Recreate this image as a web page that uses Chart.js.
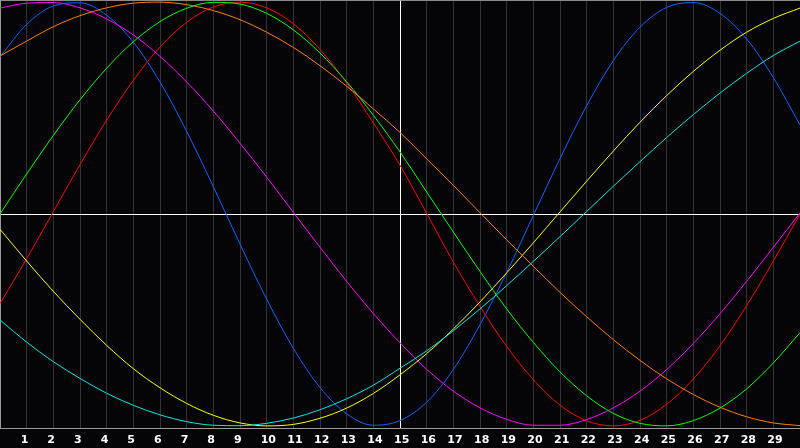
<!DOCTYPE html>
<html>
<head>
<meta charset="utf-8">
<script src="https://cdn.jsdelivr.net/npm/chart.js@4"></script>
<style>
  html, body { margin: 0; padding: 0; background: #050508; }
  canvas { display: block; }
</style>
</head>
<body>
<canvas id="waves" width="800" height="448"></canvas>
<script>
// x-Positionen 0..30, beschriftet werden nur 1..29
const xValues = [0,1,2,3,4,5,6,7,8,9,10,11,12,13,14,15,16,17,18,19,20,21,22,23,24,25,26,27,28,29,30];
const tickLabels = ['1','2','3','4','5','6','7','8','9','10','11','12','13','14','15','16','17','18','19','20','21','22','23','24','25','26','27','28','29'];

// Werte (-1..1)
const blueValues = [0.742,0.895,0.982,0.997,0.938,0.811,0.623,0.390,0.129,-0.142,-0.402,-0.634,-0.819,-0.943,-0.997,-0.975,-0.888,-0.734,-0.522,-0.276,-0.007,0.262,0.511,0.724,0.882,0.975,0.998,0.947,0.826,0.644,0.420];
const magentaValues = [0.972,0.995,0.998,0.973,0.921,0.845,0.744,0.623,0.486,0.334,0.174,0.008,-0.157,-0.318,-0.470,-0.608,-0.733,-0.836,-0.915,-0.969,-0.997,-0.997,-0.970,-0.915,-0.836,-0.734,-0.611,-0.471,-0.318,-0.157,0.005];
const orangeValues = [0.746,0.816,0.884,0.936,0.973,0.995,1.000,0.988,0.960,0.917,0.858,0.786,0.700,0.603,0.496,0.385,0.260,0.135,0.006,-0.122,-0.247,-0.370,-0.485,-0.593,-0.691,-0.778,-0.852,-0.912,-0.957,-0.986,-0.999];
const greenValues = [0.000,0.189,0.371,0.539,0.688,0.813,0.908,0.971,0.999,0.991,0.947,0.869,0.760,0.624,0.466,0.293,0.104,-0.085,-0.271,-0.448,-0.606,-0.745,-0.858,-0.941,-0.988,-1.000,-0.975,-0.916,-0.825,-0.703,-0.560];
const redValues = [-0.423,-0.211,0.011,0.233,0.443,0.631,0.788,0.905,0.977,1.000,0.973,0.898,0.777,0.618,0.430,0.230,0.003,-0.227,-0.436,-0.625,-0.782,-0.902,-0.976,-1.000,-0.974,-0.898,-0.779,-0.622,-0.432,-0.222,0.000];
const yellowValues = [-0.072,-0.222,-0.365,-0.497,-0.620,-0.730,-0.820,-0.894,-0.950,-0.986,-1.000,-0.993,-0.964,-0.916,-0.847,-0.759,-0.659,-0.543,-0.415,-0.278,-0.136,0.010,0.155,0.297,0.433,0.559,0.673,0.773,0.858,0.923,0.972];
const cyanValues = [-0.500,-0.605,-0.697,-0.776,-0.846,-0.903,-0.948,-0.980,-0.997,-0.999,-0.988,-0.963,-0.924,-0.872,-0.808,-0.728,-0.646,-0.551,-0.448,-0.338,-0.224,-0.107,0.012,0.131,0.247,0.361,0.469,0.571,0.664,0.748,0.816];

const toPoints = (values) => values.map((v, i) => ({ x: xValues[i], y: v }));

function wave(values, color) {
    return {
        data: toPoints(values),
        borderColor: color,
        borderWidth: 1,
        pointRadius: 0,
        fill: false,
        cubicInterpolationMode: 'monotone'
    };
}

// Hintergrund dunkel füllen
const darkBackground = {
    id: 'darkBackground',
    beforeDraw(chart) {
        const ctx = chart.ctx;
        ctx.save();
        ctx.fillStyle = '#050508';
        ctx.fillRect(0, 0, chart.width, chart.height);
        ctx.restore();
    }
};

const wavesChart = new Chart(document.getElementById('waves'), {
    type: 'line',
    data: {
        datasets: [
            wave(orangeValues, '#ff7f00'),
            wave(greenValues, '#00ff00'),
            wave(cyanValues, '#00e8e8'),
            wave(yellowValues, '#ffff00'),
            wave(magentaValues, '#ff00ff'),
            wave(redValues, '#ff0000'),
            wave(blueValues, '#0a64ff')
        ]
    },
    options: {
        responsive: false,
        animation: false,
        devicePixelRatio: 1,
        layout: { padding: 0 },
        plugins: {
            legend: { display: false },
            tooltip: { enabled: false }
        },
        scales: {
            x: {
                type: 'linear',
                min: 0,
                max: 30,
                afterFit: (scale) => {
                    scale.height = 20;
                    scale.paddingLeft = 0;
                    scale.paddingRight = 0;
                },
                ticks: {
                    stepSize: 1,
                    autoSkip: false,
                    maxRotation: 0,
                    padding: 6,
                    align: 'start',
                    labelOffset: -6,
                    color: '#ffffff',
                    font: { family: 'DejaVu Sans', size: 11, weight: 'bold' },
                    callback: (value) => (value >= 1 && value <= 29) ? tickLabels[value - 1] : ''
                },
                grid: {
                    drawTicks: false,
                    lineWidth: 1,
                    color: (ctx) => ctx.tick && ctx.tick.value === 15 ? '#ffffff' : '#333336'
                },
                border: { display: true, color: '#9a9a9a', width: 1 }
            },
            y: {
                min: -1.01,
                max: 1.01,
                afterFit: (scale) => {
                    scale.width = 0;
                },
                afterBuildTicks: (scale) => {
                    scale.ticks = [{ value: -1.01 }, { value: 0 }, { value: 1.01 }];
                },
                ticks: { display: false },
                grid: {
                    drawTicks: false,
                    lineWidth: 1,
                    color: (ctx) => ctx.tick && ctx.tick.value === 0 ? '#ffffff' : '#8a8a8a'
                },
                border: { display: true, color: '#9a9a9a', width: 1 }
            }
        }
    },
    plugins: [darkBackground]
});
</script>
</body>
</html>
